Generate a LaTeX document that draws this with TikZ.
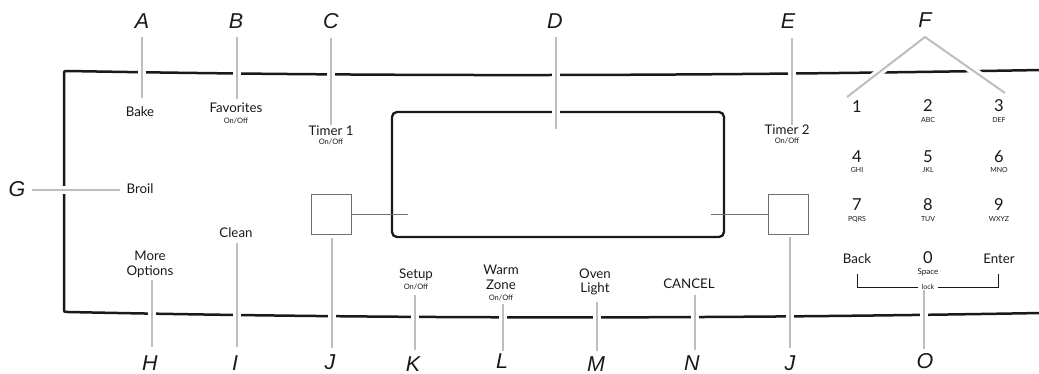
\documentclass[tikz,border=0pt]{standalone}
\usepackage{fontspec}
\setmainfont{Lato}
\newfontfamily\lblfont{Liberation Sans}
\definecolor{lead}{RGB}{190,190,192}
\definecolor{sqc}{RGB}{110,110,110}
\definecolor{ink}{RGB}{25,25,25}
\tikzset{
  lbl/.style={font=\lblfont\itshape\fontsize{21.5}{21.5}\selectfont, text=ink, inner sep=0pt, anchor=base},
  btn/.style={font=\fontsize{13.3}{13.3}\selectfont, text=ink, inner sep=0pt, anchor=base},
  subl/.style={font=\fontsize{7.5}{7.5}\selectfont, text=ink, inner sep=0pt, anchor=base},
  digit/.style={font=\fontsize{16.5}{16.5}\selectfont, text=ink, inner sep=0pt, anchor=base},
  keysub/.style={font=\fontsize{7}{7}\selectfont, text=ink, inner sep=0pt, anchor=base},
  leader/.style={draw=lead, line width=2pt, preaction={draw=white, line width=8pt}},
  panel/.style={draw=ink, line width=2.5pt},
  screen/.style={draw=ink, line width=2.3pt, rounded corners=5pt},
  sq/.style={draw=sqc, line width=1pt, minimum width=40pt, minimum height=40pt, inner sep=0pt},
  link/.style={draw=sqc, line width=1pt},
  lockline/.style={draw=ink, line width=0.8pt}
}
\begin{document}
\begin{tikzpicture}[x=1pt,y=-1pt]
\useasboundingbox (0,0) rectangle (1039,374);
% panel outline
\draw[panel] (1041,70) .. controls (700,76) and (400,77) .. (68,71)
  .. controls (64,71) .. (64,75) -- (64,308)
  .. controls (64,312) .. (68,312)
  .. controls (400,319) and (700,319) .. (1041,313);
% display
\node[screen, minimum width=332pt, minimum height=125pt, inner sep=0pt] (disp) at (558,174.5) {};
% small squares
\node[sq] (sqL) at (331,215) {};
\node[sq] (sqR) at (788,215) {};
\coordinate (lnkL) at (408,215);
\coordinate (lnkR) at (711,215);
\draw[link] (sqL.east) -- (lnkL);
\draw[link] (lnkR) -- (sqR.west);

% letter labels
\node[lbl] (A) at (142,29) {A};
\node[lbl] (B) at (236,29) {B};
\node[lbl] (C) at (331,29) {C};
\node[lbl] (D) at (555,29) {D};
\node[lbl] (E) at (788,29) {E};
\node[lbl] (F) at (925,28) {F};
\node[lbl] (G) at (17,197) {G};
\node[lbl] (H) at (150,370) {H};
\node[lbl] (I) at (235,370) {I};
\node[lbl] (J) at (330,369) {J};
\node[lbl] (K) at (413,371) {K};
\node[lbl] (L) at (502,368) {L};
\node[lbl] (M) at (596,371) {M};
\node[lbl] (N) at (692,370) {N};
\node[lbl] (J2) at (790,370) {J};
\node[lbl] (O) at (925,368) {O};

% leader end points
\coordinate (a0) at (142,37);  \coordinate (a1) at (142,98);
\coordinate (b0) at (237,37);  \coordinate (b1) at (237,99);
\coordinate (c0) at (331,38);  \coordinate (c1) at (331,125);
\coordinate (d0) at (556,37);  \coordinate (d1) at (556,129);
\coordinate (e0) at (792,38);  \coordinate (e1) at (792,125);
\coordinate (f0) at (925,37);  \coordinate (f1) at (847,97);  \coordinate (f2) at (1005,93);
\coordinate (g0) at (32,190);  \coordinate (g1) at (120,190);
\coordinate (h0) at (152,280); \coordinate (h1) at (152,347);
\coordinate (i0) at (237,243); \coordinate (i1) at (237,347);
\coordinate (j0) at (332,238); \coordinate (j1) at (332,348);
\coordinate (k0) at (415,295); \coordinate (k1) at (415,350);
\coordinate (l0) at (503,304); \coordinate (l1) at (503,351);
\coordinate (m0) at (597,302); \coordinate (m1) at (597,351);
\coordinate (n0) at (695,295); \coordinate (n1) at (695,350);
\coordinate (jj0) at (790,237); \coordinate (jj1) at (790,348);
\coordinate (o0) at (924,290); \coordinate (o1) at (924,349);

\path[leader] (a0) -- (a1);
\path[leader] (b0) -- (b1);
\path[leader] (c0) -- (c1);
\path[leader] (d0) -- (d1);
\path[leader] (e0) -- (e1);
\path[leader] (f1) -- (f0) -- (f2);
\path[leader] (g0) -- (g1);
\path[leader] (h0) -- (h1);
\path[leader] (i0) -- (i1);
\path[leader] (j0) -- (j1);
\path[leader] (k0) -- (k1);
\path[leader] (l0) -- (l1);
\path[leader] (m0) -- (m1);
\path[leader] (n0) -- (n1);
\path[leader] (jj0) -- (jj1);
\path[leader] (o0) -- (o1);

% buttons
\node[btn] (bake) at (140,117) {Bake};
\node[btn] (fav) at (236,113) {Favorites};
\node[subl] (favo) at (236,124) {On/Off};
\node[btn] (t1) at (331,136) {Timer 1};
\node[subl] (t1o) at (331,145) {On/Off};
\node[btn] (broil) at (140,194) {Broil};
\node[btn] (clean) at (236,238) {Clean};
\node[btn] (more) at (150,261) {More};
\node[btn] (opt) at (150,276) {Options};
\node[btn] (setup) at (416,279) {Setup};
\node[subl] (setupo) at (416,290) {On/Off};
\node[btn] (warm) at (501,275) {Warm};
\node[btn] (zone) at (501,290) {Zone};
\node[subl] (zoneo) at (501,300) {On/Off};
\node[btn] (oven) at (595,278) {Oven};
\node[btn] (light) at (595,292) {Light};
\node[btn] (cancel) at (689,288) {CANCEL};
\node[btn] (t2) at (787,135) {Timer 2};
\node[subl] (t2o) at (787,144) {On/Off};

% keypad
\node[digit] (k1) at (857,113) {1};
\node[digit] (k2) at (928,112) {2};
\node[keysub] (k2s) at (928,123) {ABC};
\node[digit] (k3) at (999,112) {3};
\node[keysub] (k3s) at (999,123) {DEF};
\node[digit] (k4) at (857,163) {4};
\node[keysub] (k4s) at (857,173) {GHI};
\node[digit] (k5) at (928,163) {5};
\node[keysub] (k5s) at (928,173) {JKL};
\node[digit] (k6) at (999,163) {6};
\node[keysub] (k6s) at (999,173) {MNO};
\node[digit] (k7) at (857,211) {7};
\node[keysub] (k7s) at (857,222) {PQRS};
\node[digit] (k8) at (928,211) {8};
\node[keysub] (k8s) at (928,222) {TUV};
\node[digit] (k9) at (999,211) {9};
\node[keysub] (k9s) at (999,222) {WXYZ};
\node[btn] (back) at (857,263) {Back};
\node[digit] (k0) at (928,264) {0};
\node[keysub, font=\fontsize{8}{8}\selectfont] (k0s) at (928,274) {Space};
\node[btn] (enter) at (999,263) {Enter};
\node[keysub, anchor=center, inner xsep=4pt] (lock) at (928,287) {lock};
\coordinate (lockL) at (857,274);
\coordinate (lockR) at (998,274);
\draw[lockline] (lockL) |- (lock.west);
\draw[lockline] (lock.east) -| (lockR);
\end{tikzpicture}
\end{document}
